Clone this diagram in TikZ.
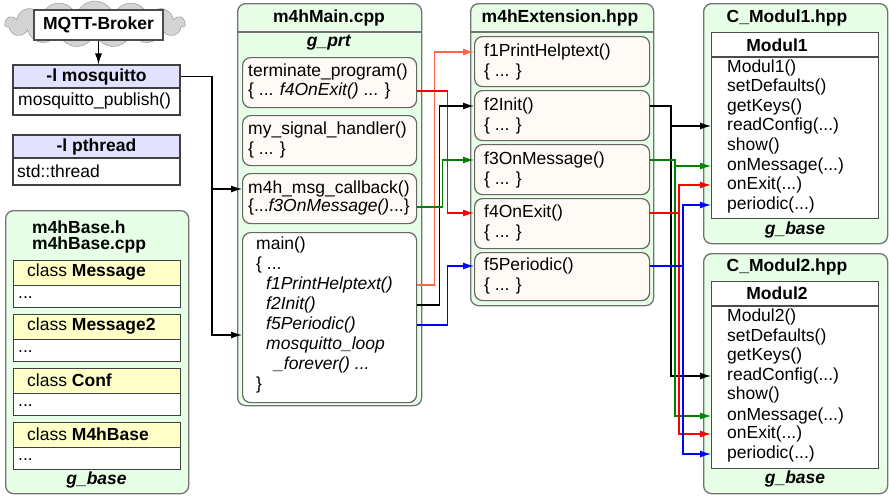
\documentclass[tikz,border=0pt]{standalone}
\usepackage{fontspec}
\setmainfont{Liberation Sans}
\usetikzlibrary{arrows.meta,shapes.symbols}
\definecolor{grpfill}{RGB}{230,255,230}
\definecolor{fnfill}{RGB}{255,250,246}
\definecolor{libfill}{RGB}{226,226,255}
\definecolor{clsfill}{RGB}{255,255,200}
\definecolor{cloudgray}{RGB}{212,212,212}
\definecolor{corange}{RGB}{255,100,70}
\definecolor{cgreen}{RGB}{0,128,0}

\begin{document}
\begin{tikzpicture}[x=1pt,y=-1pt,
	every node/.style={font=\fontsize{17.5}{19.5}\selectfont, inner sep=0pt},
	txt/.style={anchor=west},
	ttl/.style={font=\fontsize{17.5}{19.5}\selectfont\bfseries},
	grp/.style={draw=black!55, fill=grpfill, line width=1.3pt, rounded corners=8pt, anchor=north west},
	fnbox/.style={draw=black!60, fill=fnfill, line width=1.2pt, rounded corners=8pt, anchor=north west, minimum width=175pt},
	libhd/.style={draw=black!75, fill=libfill, line width=1.1pt, minimum width=167pt, minimum height=23pt},
	libbd/.style={draw=black!75, fill=white, line width=1.1pt, minimum width=167pt, minimum height=27pt},
	clshd/.style={draw=black!75, fill=clsfill, line width=1.1pt, minimum width=167pt, minimum height=25pt, anchor=north west},
	clsbd/.style={draw=black!75, fill=white, line width=1.1pt, minimum width=167pt, minimum height=22pt, anchor=north west},
	clsbox/.style={draw=black!70, fill=white, line width=1.2pt, minimum width=167pt, anchor=north west},
	con/.style={line width=1.2pt, -{Latex[length=11pt,width=7pt]}}]
	\useasboundingbox (0,0) rectangle (889,496);
	
	\node[cloud, cloud puffs=15, aspect=4.4, draw=black!45, fill=cloudgray, minimum width=180pt, minimum height=46pt] (cloud) at (95,24) {};
	\node[draw=black!70, fill=white, line width=1.2pt, minimum width=129pt, minimum height=30pt, ttl] (broker) at (98.5,25) {MQTT-Broker};
	
	\node[libhd] (mosqhd) at (96.5,76.5) {\bfseries -l mosquitto};
	\node[libbd] (mosqbd) at (96.5,101.5) {};
	\node[txt] (mosqpub) at (18,101) {mosquitto\_publish()};
	
	\node[libhd] (pthd) at (96.5,146.5) {\bfseries -l pthread};
	\node[libbd] (ptbd) at (96.5,171.5) {};
	\node[txt] (ptthread) at (17,171) {std::thread};
	
	\node[grp, minimum width=183pt, minimum height=283pt] (basegrp) at (5,210) {};
	\node[ttl, anchor=west] (baseh) at (32,227) {m4hBase.h};
	\node[ttl, anchor=west] (basecpp) at (32,245) {m4hBase.cpp};
	\node[clshd] (msghd) at (13,260) {};
	\node[clsbd] (msgbd) at (13,285) {};
	\node[txt] (msgname) at (27,272) {class \textbf{Message}};
	\node[txt] (msgdots) at (18,298) {...};
	\node[clshd] (msg2hd) at (13,314) {};
	\node[clsbd] (msg2bd) at (13,339) {};
	\node[txt] (msg2name) at (27,326) {class \textbf{Message2}};
	\node[txt] (msg2dots) at (18,352) {...};
	\node[clshd] (confhd) at (13,368) {};
	\node[clsbd] (confbd) at (13,393) {};
	\node[txt] (confname) at (27,380) {class \textbf{Conf}};
	\node[txt] (confdots) at (18,406) {...};
	\node[clshd] (basehd) at (13,422) {};
	\node[clsbd] (basebd) at (13,447) {};
	\node[txt] (basename) at (27,434) {class \textbf{M4hBase}};
	\node[txt] (basedots) at (18,460) {...};
	\node[ttl] (basevar) at (96.5,480) {\textit{g\_base}};
	
	\node[grp, minimum width=184pt, minimum height=402pt] (maingrp) at (237,3) {};
	\draw[black!55, line width=1.3pt] (237,32) -- (421,32);
	\node[ttl] (maintitle) at (329,18) {m4hMain.cpp};
	\node[ttl] (mainvar) at (329,43) {\textit{g\_prt}};
	\node[fnbox, minimum width=174pt, minimum height=50pt] (tpbox) at (242,57) {};
	\node[txt] (tpname) at (248,72) {terminate\_program()};
	\node[txt] (tpbody) at (248,91) {\{ ... \textit{f4OnExit()} ... \}};
	\node[fnbox, minimum width=174pt, minimum height=50pt] (shbox) at (242,115) {};
	\node[txt] (shname) at (248,130) {my\_signal\_handler()};
	\node[txt] (shbody) at (248,150) {\{ ... \}};
	\node[fnbox, minimum width=174pt, minimum height=50pt] (cbbox) at (242,173) {};
	\node[txt] (cbname) at (248,189) {m4h\_msg\_callback()};
	\node[txt] (cbbody) at (248,207) {\{...\textit{f3OnMessage()}...\}};
	\node[fnbox, fill=white, minimum width=174pt, minimum height=170pt] (mainbox) at (242,232) {};
	\node[txt] (mainname) at (256,245) {main()};
	\node[txt] (mainopen) at (256,265) {\{ ...};
	\node[txt] (f1call) at (266,285) {\textit{f1PrintHelptext()}};
	\node[txt] (f2call) at (266,305) {\textit{f2Init()}};
	\node[txt] (f5call) at (266,325) {\textit{f5Periodic()}};
	\node[txt] (loopcall) at (266,345) {\textit{mosquitto\_loop}};
	\node[txt] (loopcall2) at (274,365) {\textit{\_forever() ...}};
	\node[txt] (mainclose) at (256,385) {\}};
	
	\node[grp, minimum width=183pt, minimum height=302pt] (extgrp) at (470,3) {};
	\draw[black!55, line width=1.3pt] (470,32) -- (653,32);
	\node[ttl] (exttitle) at (560,18) {m4hExtension.hpp};
	\node[fnbox, minimum height=50pt] (f1box) at (474,36) {};
	\node[txt] (f1name) at (484,52) {f1PrintHelptext()};
	\node[txt] (f1body) at (484,72) {\{ ... \}};
	\node[fnbox, minimum height=50pt] (f2box) at (474,90) {};
	\node[txt] (f2name) at (484,106) {f2Init()};
	\node[txt] (f2body) at (484,126) {\{ ... \}};
	\node[fnbox, minimum height=50pt] (f3box) at (474,144) {};
	\node[txt] (f3name) at (484,160) {f3OnMessage()};
	\node[txt] (f3body) at (484,180) {\{ ... \}};
	\node[fnbox, minimum height=50pt] (f4box) at (474,198) {};
	\node[txt] (f4name) at (484,213) {f4OnExit()};
	\node[txt] (f4body) at (484,233) {\{ ... \}};
	\node[fnbox, minimum height=48pt] (f5box) at (474,252) {};
	\node[txt] (f5name) at (484,266) {f5Periodic()};
	\node[txt] (f5body) at (484,286) {\{ ... \}};
	
	\node[grp, minimum width=184pt, minimum height=240pt] (m1grp) at (703,3) {};
	\node[ttl] (m1title) at (787,18) {C\_Modul1.hpp};
	\node[clsbox, minimum height=186pt] (m1box) at (711,32) {};
	\draw[black!70, line width=1.2pt] (711,57) -- (878,57);
	\node[ttl] (m1name) at (777,45) {Modul1};
	\node[txt] (m1ctor) at (727,68) {Modul1()};
	\node[txt] (m1def) at (727,87) {setDefaults()};
	\node[txt] (m1keys) at (727,107) {getKeys()};
	\node[txt] (m1read) at (727,126) {readConfig(...)};
	\node[txt] (m1show) at (727,146) {show()};
	\node[txt] (m1msg) at (727,166) {onMessage(...)};
	\node[txt] (m1exit) at (727,185) {onExit(...)};
	\node[txt] (m1per) at (727,205) {periodic(...)};
	\node[ttl] (m1var) at (795,230) {\textit{g\_base}};
	
	\node[grp, minimum width=184pt, minimum height=240pt] (m2grp) at (703,253) {};
	\node[ttl] (m2title) at (787,267) {C\_Modul2.hpp};
	\node[clsbox, minimum height=187pt] (m2box) at (711,281) {};
	\draw[black!70, line width=1.2pt] (711,306) -- (878,306);
	\node[ttl] (m2name) at (777,293) {Modul2};
	\node[txt] (m2ctor) at (727,317) {Modul2()};
	\node[txt] (m2def) at (727,337) {setDefaults()};
	\node[txt] (m2keys) at (727,356) {getKeys()};
	\node[txt] (m2read) at (727,376) {readConfig(...)};
	\node[txt] (m2show) at (727,395) {show()};
	\node[txt] (m2msg) at (727,416) {onMessage(...)};
	\node[txt] (m2exit) at (727,434) {onExit(...)};
	\node[txt] (m2per) at (727,454) {periodic(...)};
	\node[ttl] (m2var) at (795,479) {\textit{g\_base}};
	
	\draw[con] (broker.south) -- (broker.south |- mosqhd.north);
	
	\coordinate (mqbus) at (212,76);
	\coordinate (mainin) at (242,335);
	\draw[con] (mosqhd.east) -| (mqbus |- mainin) -- (mainin);
	\draw[con] (mqbus |- cbname) -- (cbbox.west |- cbname);
	
	\draw[con, corange] (mainbox.east |- f1call) -- ++(17,0) |- (f1box.west |- f1name);
	\draw[con, red] (tpbox.east |- tpbody) -- ++(30,0) |- (f4box.west |- f4name);
	\draw[con] (mainbox.east |- f2call) -- ++(22,0) |- (f2box.west |- f2name);
	\draw[con, cgreen] (cbbox.east |- cbbody) -- ++(25,0) |- (f3box.west |- f3name);
	\draw[con, blue] (mainbox.east |- f5call) -- ++(30,0) |- (f5box.west |- f5name);
	
	\coordinate (kbus) at (671,0);
	\coordinate (gbus) at (675,0);
	\coordinate (rbus) at (679,0);
	\coordinate (bbus) at (683,0);
	\draw[con] (f2box.east |- f2name) -| (kbus |- m1read) -- (m1box.west |- m1read);
	\draw[con] (kbus |- f2name) |- (m2box.west |- m2read);
	\draw[con, cgreen] (f3box.east |- f3name) -| (gbus |- m1msg) -- (m1box.west |- m1msg);
	\draw[con, cgreen] (gbus |- f3name) |- (m2box.west |- m2msg);
	\draw[con, red] (f4box.east |- f4name) -| (rbus |- m1exit) -- (m1box.west |- m1exit);
	\draw[con, red] (rbus |- f4name) |- (m2box.west |- m2exit);
	\draw[con, blue] (f5box.east |- f5name) -| (bbus |- m1per) -- (m1box.west |- m1per);
	\draw[con, blue] (bbus |- f5name) |- (m2box.west |- m2per);
\end{tikzpicture}
\end{document}
